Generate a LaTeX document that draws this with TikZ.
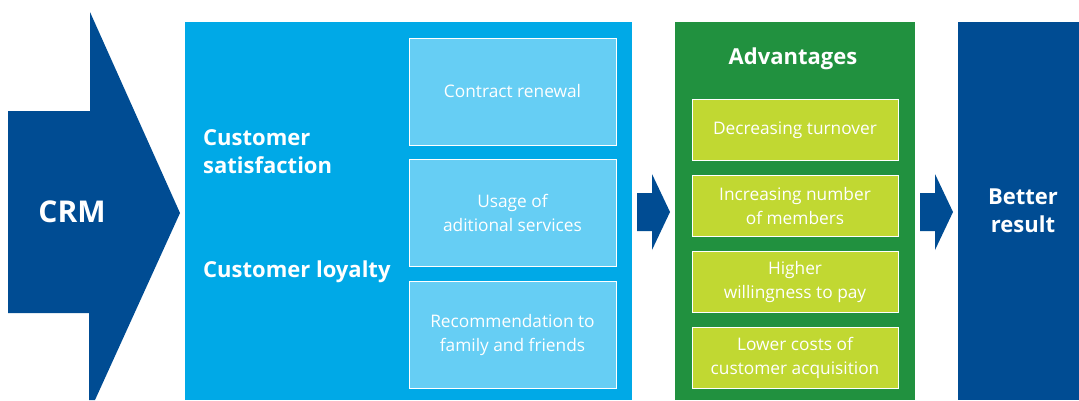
\documentclass[tikz,border=0pt]{standalone}
\usepackage{fontspec}
\setmainfont{Open Sans}
\usetikzlibrary{positioning}
\definecolor{crmblue}{HTML}{004C93}
\definecolor{skyblue}{HTML}{00A9E7}
\definecolor{paleblue}{HTML}{66CEF4}
\definecolor{advgreen}{HTML}{21913F}
\definecolor{lime}{HTML}{C1D832}

\begin{document}
\begin{tikzpicture}[x=1pt, y=-1pt,
  stage/.style={rectangle, inner sep=0pt, anchor=north west},
  item/.style={rectangle, draw=white, line width=0.8pt, inner sep=0pt,
    text=white, align=center, font=\fontsize{17.3}{24}\selectfont},
  heading/.style={text=white, inner sep=0pt, font=\fontsize{22}{28}\selectfont\bfseries}]

\useasboundingbox (0,0) rectangle (1079,400);

% CRM block arrow
\fill[crmblue] (8,111) -- (90,111) -- (90,12) -- (180,213) -- (95,400)
  -- (89,400) -- (89,313) -- (8,313) -- cycle;
\node[heading, font=\fontsize{30}{34}\selectfont\bfseries] (crm) at (72,212) {CRM};

% Satisfaction and loyalty panel
\node[stage, fill=skyblue, minimum width=447, minimum height=378] (loyalty) at (185,22) {};
\node[heading, anchor=west, align=left] (satis) at (203,152) {Customer\\satisfaction};
\node[heading, anchor=west] (loyal) at (203,272) {Customer loyalty};

\node[item, fill=paleblue, minimum width=207, minimum height=107] (renew) at (512.5,91.5) {Contract renewal};
\node[item, fill=paleblue, minimum width=207, minimum height=107, below=14pt of renew] (usage) {Usage of\\aditional services};
\node[item, fill=paleblue, minimum width=207, minimum height=107, below=14pt of usage] (recom) {Recommendation to\\family and friends};

% Small block arrows between the panels
\foreach \x in {637, 920} {
  \fill[crmblue] (\x,193) -- ++(15,0) -- ++(0,-19) -- ++(18,38) -- ++(-18,38)
    -- ++(0,-19) -- ++(-15,0) -- cycle;
}

% Advantages panel
\node[stage, fill=advgreen, minimum width=240, minimum height=378] (adv) at (675,22) {};
\node[heading] (advtitle) at (793,58.5) {Advantages};

\node[item, fill=lime, minimum width=206, minimum height=61] (turnover) at (795,130) {Decreasing turnover};
\node[item, fill=lime, minimum width=206, minimum height=61, below=14.2pt of turnover] (members) {Increasing number\\of members};
\node[item, fill=lime, minimum width=206, minimum height=61, below=14.2pt of members] (willing) {Higher\\willingness to pay};
\node[item, fill=lime, minimum width=206, minimum height=61, below=14.2pt of willing] (costs) {Lower costs of\\customer acquisition};

% Result panel
\node[stage, fill=crmblue, minimum width=121, minimum height=378] (result) at (958,22) {};
\node[heading, align=center] (better) at (1023,211) {Better\\result};

\end{tikzpicture}
\end{document}
